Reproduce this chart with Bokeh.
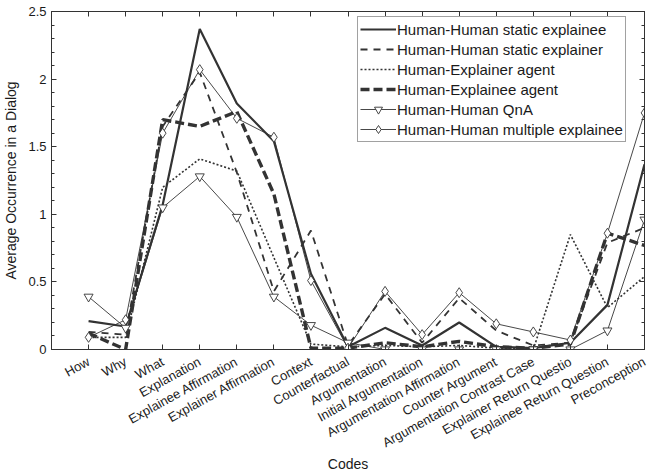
import math
from bokeh.plotting import figure
from bokeh.models import (Range1d, FixedTicker, SingleIntervalTicker, LinearAxis,
                          Legend, LegendItem)
from bokeh.embed import file_html
from bokeh.resources import INLINE

codes = ["How", "Why", "What", "Explanation", "Explainee Affirmation",
         "Explainer Affirmation", "Context", "Counterfactual", "Argumentation",
         "Initial Argumentation", "Argumentation Affirmation", "Counter Argument",
         "Argumentation Contrast Case", "Explainer Return Questio",
         "Explainee Return Question", "Preconception"]
x = list(range(1, len(codes) + 1))

static_explainee = [0.21, 0.17, 1.07, 2.37, 1.82, 1.54, 0.56, 0.02, 0.16, 0.03, 0.20, 0.02, 0.01, 0.05, 0.33, 1.37]
static_explainer = [0.13, 0.11, 1.65, 2.05, 1.31, 0.43, 0.88, 0.03, 0.41, 0.05, 0.38, 0.14, 0.03, 0.05, 0.79, 0.90]
explainer_agent = [0.09, 0.09, 1.20, 1.41, 1.32, 0.68, 0.04, 0.02, 0.03, 0.02, 0.03, 0.01, 0.00, 0.85, 0.31, 0.54]
explainee_agent = [0.12, 0.00, 1.70, 1.65, 1.76, 1.15, 0.01, 0.01, 0.05, 0.02, 0.06, 0.02, 0.01, 0.04, 0.86, 0.77]
qna = [0.39, 0.16, 1.05, 1.28, 0.98, 0.39, 0.18, 0.05, 0.00, 0.00, 0.00, 0.00, 0.00, 0.00, 0.14, 0.96]
multiple_explainee = [0.09, 0.22, 1.60, 2.07, 1.71, 1.57, 0.51, 0.01, 0.43, 0.11, 0.42, 0.19, 0.13, 0.07, 0.86, 1.75]

names = ["Human-Human static explainee", "Human-Human static explainer",
         "Human-Explainer agent", "Human-Explainee agent",
         "Human-Human QnA", "Human-Human multiple explainee"]

FONT = "Liberation Sans"
LC = "#333333"
TC = "#1a1a1a"

p = figure(width=650, height=476, output_backend="svg", toolbar_location=None,
           x_range=Range1d(0, 16), y_range=Range1d(0, 2.5),
           min_border_left=44, min_border_right=6, min_border_top=11,
           min_border_bottom=127, x_axis_label="Codes",
           y_axis_label="Average Occurrence in a Dialog")
p.xgrid.grid_line_color = None
p.ygrid.grid_line_color = None
p.outline_line_color = LC
p.outline_line_width = 1
p.background_fill_color = "white"
p.border_fill_color = "white"

labels = {i + 1: c for i, c in enumerate(codes)}

xa = p.xaxis[0]
xa.ticker = FixedTicker(ticks=x)
xa.major_label_overrides = labels
xa.major_label_orientation = math.radians(29)

ya = p.yaxis[0]
ya.ticker = SingleIntervalTicker(interval=0.5, num_minor_ticks=5)

for ax in (xa, ya):
    ax.axis_line_color = LC
    ax.major_tick_line_color = LC
    ax.minor_tick_line_color = LC if ax is ya else None
    ax.major_tick_in = 5
    ax.major_tick_out = 0
    ax.minor_tick_in = 3
    ax.minor_tick_out = 0
    ax.major_label_text_font = FONT
    ax.major_label_text_font_size = "13px"
    ax.major_label_text_color = TC
    ax.axis_label_text_font = FONT
    ax.axis_label_text_font_size = "14px"
    ax.axis_label_text_font_style = "normal"
    ax.axis_label_text_color = TC
ya.major_label_standoff = 5
ya.axis_label_standoff = 6
xa.major_label_standoff = 11
xa.axis_label_standoff = -4

top = LinearAxis(ticker=FixedTicker(ticks=x), major_label_text_font_size="0px",
                 major_label_standoff=0, major_tick_in=5, major_tick_out=0,
                 minor_tick_line_color=None, axis_line_color=LC,
                 major_tick_line_color=LC)
p.add_layout(top, "above")
right = LinearAxis(ticker=SingleIntervalTicker(interval=0.5, num_minor_ticks=5),
                   major_label_text_font_size="0px", major_label_standoff=0,
                   major_tick_in=5, major_tick_out=0, minor_tick_in=3,
                   minor_tick_out=0, axis_line_color=LC, major_tick_line_color=LC,
                   minor_tick_line_color=LC)
p.add_layout(right, "right")

items = []
r1 = p.line(x, static_explainee, line_color=LC, line_width=2.2)
items.append(LegendItem(label=names[0], renderers=[r1]))
r2 = p.line(x, static_explainer, line_color=LC, line_width=1.8, line_dash="7 6")
items.append(LegendItem(label=names[1], renderers=[r2]))
r3 = p.line(x, explainer_agent, line_color=LC, line_width=1.6, line_dash="2 2")
items.append(LegendItem(label=names[2], renderers=[r3]))
r4 = p.line(x, explainee_agent, line_color=LC, line_width=3.4, line_dash="9 4")
items.append(LegendItem(label=names[3], renderers=[r4]))
r5 = p.line(x, qna, line_color=LC, line_width=0.9)
s5 = p.scatter(x, qna, marker="inverted_triangle", size=9, line_color=LC,
               fill_color="white", line_width=0.9)
items.append(LegendItem(label=names[4], renderers=[r5, s5]))
r6 = p.line(x, multiple_explainee, line_color=LC, line_width=0.9)
s6 = p.scatter(x, multiple_explainee, marker="diamond", size=10, line_color=LC,
               fill_color="white", line_width=0.9)
items.append(LegendItem(label=names[5], renderers=[r6, s6]))

legend = Legend(items=items, location=(306, 207), padding=2, spacing=0, margin=0,
                glyph_width=36, glyph_height=20, label_height=20, label_standoff=1,
                label_text_font=FONT, label_text_font_size="15px",
                label_text_color=TC, border_line_color="#444444",
                border_line_width=1, background_fill_color="white",
                background_fill_alpha=1)
p.add_layout(legend)

open("out.html", "w").write(file_html(p, INLINE))
